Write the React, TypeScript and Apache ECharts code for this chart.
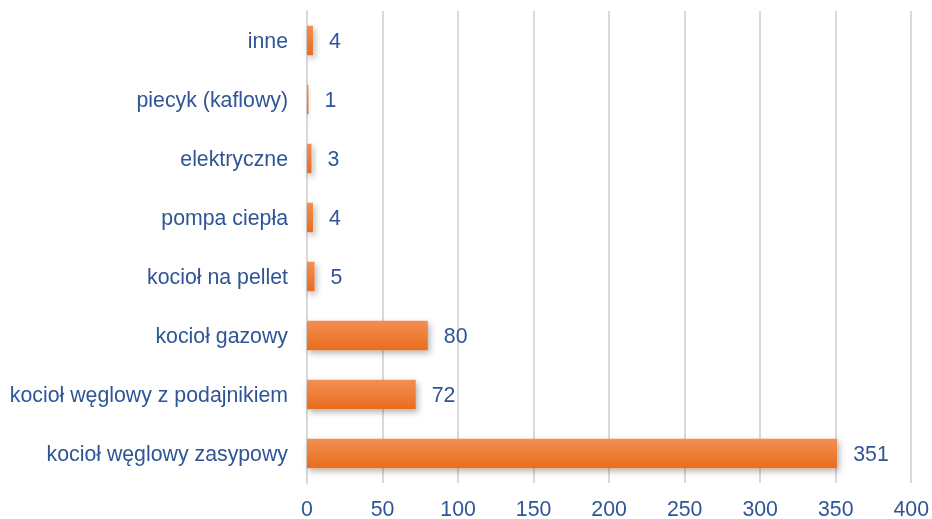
import React, { useEffect, useRef } from "react";
import * as echarts from "echarts";

const categories = [
  "kocioł węglowy zasypowy",
  "kocioł węglowy z podajnikiem",
  "kocioł gazowy",
  "kocioł na pellet",
  "pompa ciepła",
  "elektryczne",
  "piecyk (kaflowy)",
  "inne",
];
const values = [351, 72, 80, 5, 4, 3, 1, 4];
const xTicks = [0, 50, 100, 150, 200, 250, 300, 350, 400];

const TEXT = "#2F5597";
const FONT = "'Liberation Sans', Arial, sans-serif";
const FS = 21.3;

export default function App() {
  const ref = useRef<HTMLDivElement>(null);
  useEffect(() => {
    if (!ref.current) return;
    const chart = echarts.init(ref.current, undefined, { renderer: "svg" });
    chart.setOption({
      animation: false,
      grid: { left: 307, right: 19, top: 11, bottom: 32, containLabel: false },
      xAxis: {
        type: "value",
        min: xTicks[0],
        max: xTicks[xTicks.length - 1],
        interval: 50,
        axisLine: { show: false },
        axisTick: { show: false },
        splitLine: { show: true, lineStyle: { color: "#d9d9d9", width: 2 } },
        axisLabel: { color: TEXT, fontSize: FS, fontFamily: FONT, margin: 15 },
      },
      yAxis: {
        type: "category",
        data: categories,
        axisLine: { show: true, lineStyle: { color: "#d9d9d9", width: 2 } },
        axisTick: { show: false },
        axisLabel: { color: TEXT, fontSize: FS, fontFamily: FONT, margin: 19 },
      },
      series: [
        {
          type: "bar",
          data: values,
          barWidth: "50%",
          itemStyle: {
            color: new echarts.graphic.LinearGradient(0, 0, 0, 1, [
              { offset: 0, color: "#F38E52" },
              { offset: 1, color: "#E86D1E" },
            ]),
            shadowColor: "rgba(0,0,0,0.3)",
            shadowBlur: 6,
            shadowOffsetX: 2,
            shadowOffsetY: 3,
          },
          label: {
            show: true,
            position: "right",
            distance: 16,
            color: TEXT,
            fontSize: FS,
            fontFamily: FONT,
          },
        },
      ],
    });
    return () => chart.dispose();
  }, []);
  return (
    <div
      ref={ref}
      style={{ position: "fixed", left: 0, top: 0, width: 932, height: 519 }}
    />
  );
}
